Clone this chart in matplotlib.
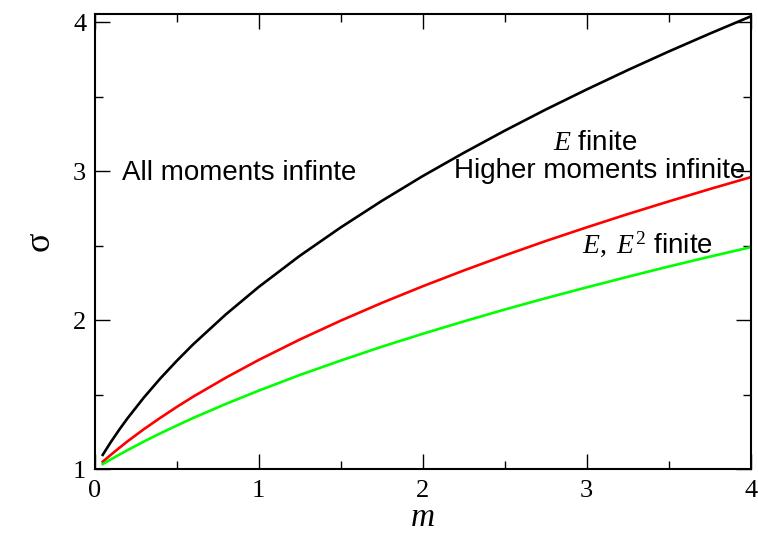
import matplotlib
matplotlib.use("Agg")
import matplotlib.pyplot as plt
from matplotlib.ticker import MultipleLocator

plt.rcParams['mathtext.fontset'] = 'custom'
plt.rcParams['mathtext.it'] = 'Liberation Serif:italic'
plt.rcParams['mathtext.rm'] = 'Liberation Serif'

# values
m_vals = [0.05, 0.1, 0.15, 0.2, 0.3, 0.4, 0.5, 0.6, 0.8, 1.0, 1.25, 1.5, 1.75,
          2.0, 2.25, 2.5, 2.75, 3.0, 3.25, 3.5, 3.75, 4.0]
sigma_all = [1.095, 1.182, 1.263, 1.339, 1.479, 1.607, 1.725, 1.836, 2.038, 2.222,
             2.431, 2.622, 2.800, 2.967, 3.123, 3.272, 3.414, 3.549, 3.679, 3.804,
             3.924, 4.040]
sigma_e = [1.049, 1.096, 1.141, 1.185, 1.267, 1.343, 1.416, 1.485, 1.613, 1.732,
           1.869, 1.996, 2.115, 2.227, 2.333, 2.434, 2.531, 2.623, 2.712, 2.797,
           2.880, 2.960]
sigma_e2 = [1.033, 1.065, 1.096, 1.126, 1.184, 1.239, 1.291, 1.342, 1.437, 1.526,
            1.631, 1.728, 1.821, 1.908, 1.991, 2.071, 2.147, 2.220, 2.291, 2.360,
            2.426, 2.490]

fig = plt.figure(figsize=(7.58, 5.37), dpi=100)
ax = fig.add_axes([0.1247, 0.1266, 0.9905 - 0.1247, 0.974 - 0.1266])

ax.plot(m_vals, sigma_all, color='black', lw=1.9)
ax.plot(m_vals, sigma_e, color='#ff0000', lw=1.9)
ax.plot(m_vals, sigma_e2, color='#00ff00', lw=1.9)

ax.set_xlim(0, 4)
ax.set_ylim(1, 4.056)
ax.xaxis.set_major_locator(MultipleLocator(1))
ax.xaxis.set_minor_locator(MultipleLocator(0.5))
ax.yaxis.set_major_locator(MultipleLocator(1))
ax.yaxis.set_minor_locator(MultipleLocator(0.5))
ax.tick_params(which='both', direction='in', top=True, right=True, width=1.0)
ax.tick_params(which='major', length=11)
ax.tick_params(which='minor', length=5.5)
ax.tick_params(axis='x', pad=8)
ax.tick_params(axis='y', pad=6)
for lab in ax.get_xticklabels() + ax.get_yticklabels():
    lab.set_fontfamily('Liberation Serif')
    lab.set_fontsize(19)
for sp in ax.spines.values():
    sp.set_linewidth(1.5)

ax.set_xlabel('m', fontfamily='Liberation Serif', fontstyle='italic', fontsize=24, labelpad=0)
ax.set_ylabel('σ', fontfamily='Liberation Serif', fontsize=26, labelpad=12)

sans = 'Liberation Sans'
ax.text(0.17, 2.99, 'All moments infinte', fontfamily=sans, fontsize=20, ha='left', va='center')
ax.text(3.05, 3.19, r'$E$ finite', fontfamily=sans, fontsize=20, ha='center', va='center')
ax.text(3.08, 3.0, 'Higher moments infinite', fontfamily=sans, fontsize=20, ha='center', va='center')
ax.text(3.37, 2.51, r'$E,\ E^2$ finite', fontfamily=sans, fontsize=20, ha='center', va='center')

fig.savefig('out.png', dpi=100)
